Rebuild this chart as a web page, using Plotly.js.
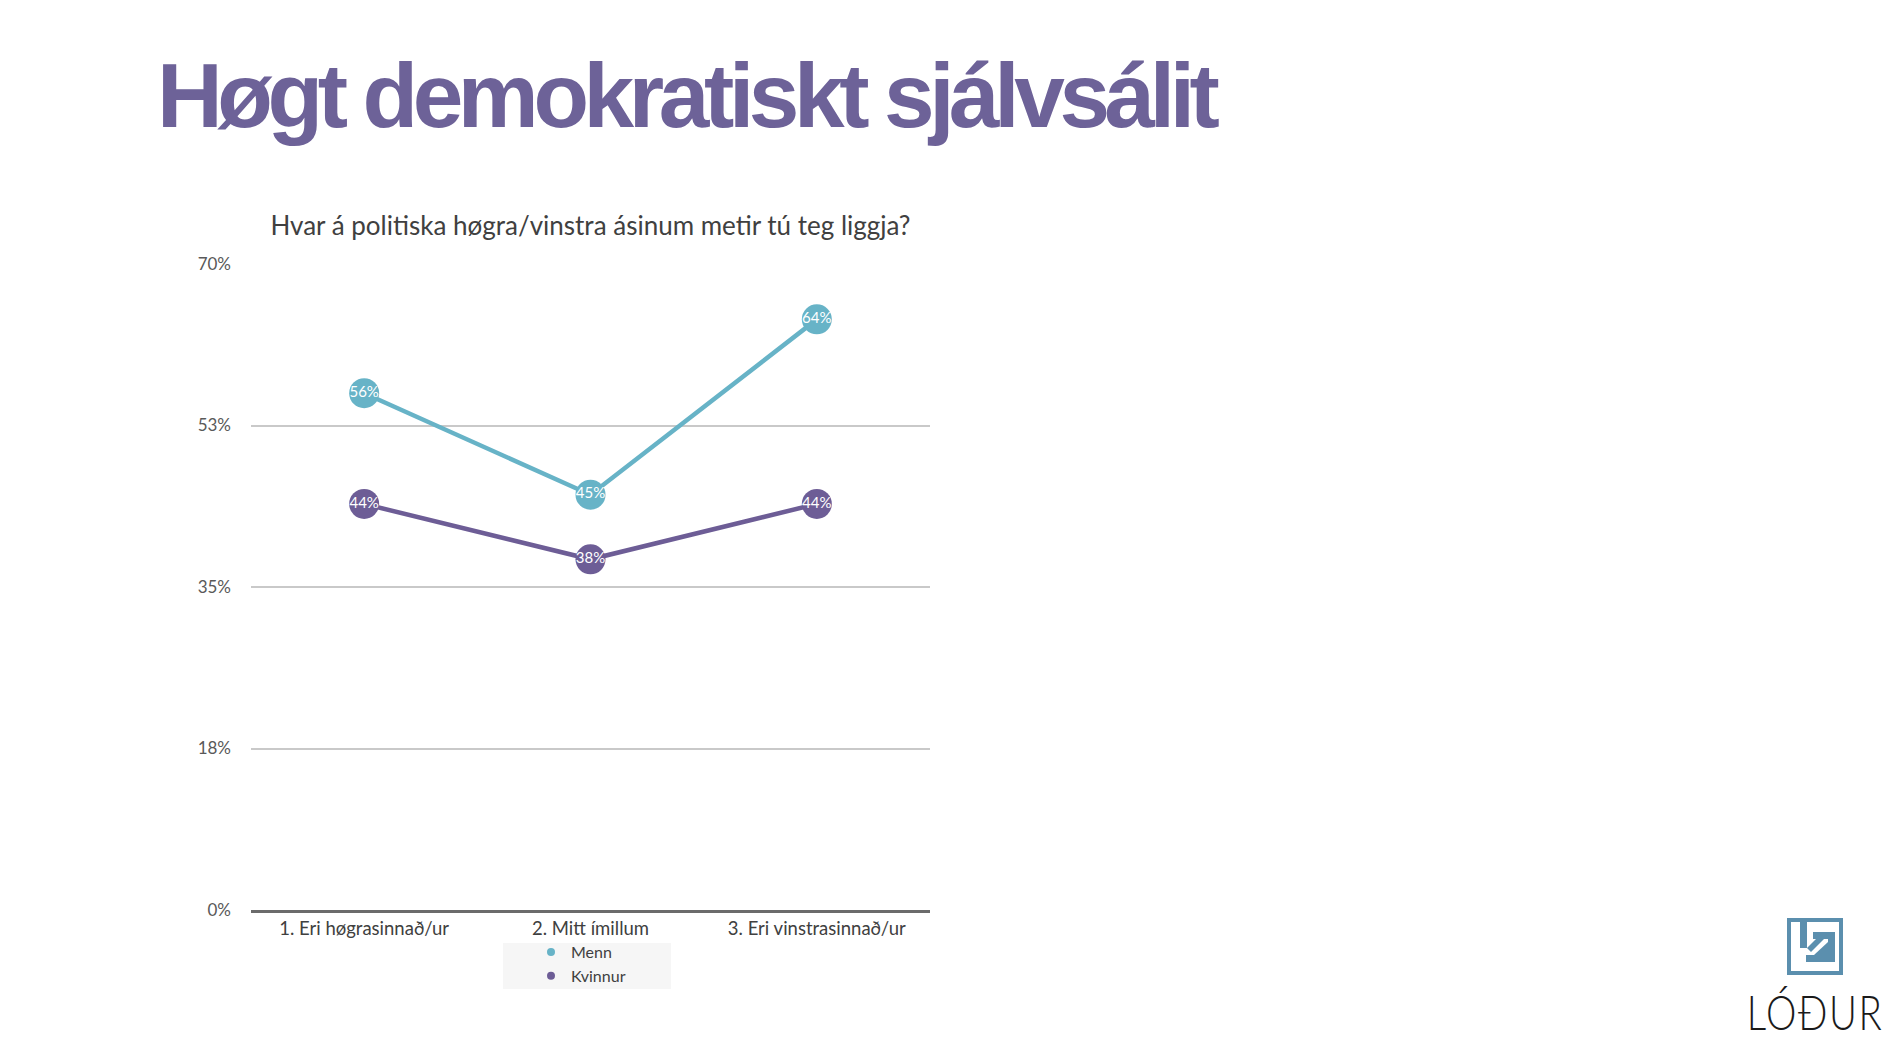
<!DOCTYPE html>
<html>
<head>
<meta charset="utf-8">
<script src="https://cdn.plot.ly/plotly-3.0.1.min.js"></script>
<style>
  html, body { margin: 0; padding: 0; background: #fff; }
  #page { position: relative; width: 1898px; height: 1062px; overflow: hidden; }
  #chart { position: absolute; left: 0; top: 0; width: 1898px; height: 1062px; }
  #headline {
    position: absolute; left: 157px; top: 50px; margin: 0;
    font-family: "Liberation Sans", Arial, sans-serif; font-weight: bold;
    font-size: 91px; line-height: 1; letter-spacing: -5.4px;
    color: #6d6298; white-space: nowrap;
  }
  #logo { position: absolute; left: 1787px; top: 918px; }
  #brand {
    position: absolute; left: 1715px; top: 988px; width: 200px; text-align: center;
    font-family: "Lato", sans-serif; font-weight: 300; font-size: 48px; line-height: 1;
    letter-spacing: 2px; color: #1a1a1a; transform: scaleX(0.8); transform-origin: center;
    white-space: nowrap;
  }
</style>
</head>
<body>
<div id="page">
  <div id="chart"></div>
  <h1 id="headline">Høgt demokratiskt sjálvsálit</h1>
  <svg id="logo" width="56" height="57" viewBox="0 0 56 57">
    <rect x="2" y="2" width="52" height="53" fill="none" stroke="#5b8fae" stroke-width="4"/>
    <rect x="13" y="4" width="7" height="26" fill="#5b8fae"/>
    <polygon points="26,14 48,14 48,44 19,44 19,37 41,37 41,21 26,21" fill="#5b8fae"/>
    <polygon points="41,24 41,37 27,37" fill="#5b8fae"/>
    <polygon points="20,30 24,34 37,21 33,17" fill="#5b8fae"/>
  </svg>
  <div id="brand">LÓÐUR</div>
</div>
<script>
// survey answers by gender, percent
let categories = ["1. Eri høgrasinnað/ur", "2. Mitt ímillum", "3. Eri vinstrasinnað/ur"];
let mennValues = [56, 45, 64];
let kvinnurValues = [44, 38, 44];

let yTickVals = [0, 17.5, 35, 52.5, 70];
let yTickText = ["0%", "18%", "35%", "53%", "70%"];

let tealColor = "#67b3c7";
let purpleColor = "#6d5d96";

function makeTrace(name, values, color) {
  return {
    x: categories,
    y: values,
    name: name,
    type: "scatter",
    mode: "lines+markers+text",
    line: { color: color, width: 4.5 },
    marker: { color: color, size: 30 },
    texttemplate: "%{y}%",
    textposition: "middle center",
    textfont: { family: "Lato, sans-serif", size: 15, color: "#ffffff" },
    hoverinfo: "x+y+name",
    showlegend: false,
  };
}

// legend-only entries: small dot like the original legend
function legendEntry(name, color) {
  return {
    x: [null],
    y: [null],
    name: name,
    type: "scatter",
    mode: "markers",
    marker: { color: color, size: 8 },
    hoverinfo: "skip",
  };
}

let layout = {
  width: 1898,
  height: 1062,
  margin: { l: 251, r: 968, t: 264, b: 152, pad: 0 },
  paper_bgcolor: "rgba(0,0,0,0)",
  plot_bgcolor: "rgba(0,0,0,0)",
  font: { family: "Lato, sans-serif", size: 18, color: "#404040" },
  title: {
    text: "Hvar á politiska høgra/vinstra ásinum metir tú teg liggja?",
    font: { family: "Lato, sans-serif", size: 26, color: "#404040" },
    x: 0.5,
    xref: "paper",
    xanchor: "center",
    y: 1 - 226 / 1062,
    yref: "container",
    yanchor: "middle",
  },
  xaxis: {
    type: "category",
    range: [-0.5, 2.5],
    showgrid: false,
    zeroline: false,
    showline: true,
    linecolor: "#6b6b6b",
    linewidth: 3,
    ticks: "",
    tickfont: { family: "Lato, sans-serif", size: 18.5, color: "#404040" },
    fixedrange: true,
  },
  yaxis: {
    range: [0, 70],
    tickvals: yTickVals,
    ticktext: yTickText,
    showgrid: true,
    gridcolor: "#c9c9c9",
    gridwidth: 1.5,
    zeroline: false,
    showline: false,
    ticks: "",
    ticklabelstandoff: 19,
    tickfont: { family: "Lato, sans-serif", size: 17, color: "#595959" },
    fixedrange: true,
  },
  // light box behind the legend, wider than plotly's own legend box
  shapes: [
    {
      type: "rect",
      xref: "paper",
      yref: "paper",
      x0: (503 - 251) / 679,
      x1: (671 - 251) / 679,
      y0: -33 / 646,
      y1: -79 / 646,
      fillcolor: "#f6f6f6",
      line: { width: 0 },
      layer: "below",
    },
  ],
  showlegend: true,
  legend: {
    orientation: "v",
    x: (531 - 251) / 679,
    xanchor: "left",
    y: -25 / 646,
    yanchor: "top",
    bgcolor: "rgba(0,0,0,0)",
    itemsizing: "trace",
    itemwidth: 30,
    tracegroupgap: 0,
    font: { family: "Lato, sans-serif", size: 16, color: "#404040" },
  },
};

Plotly.newPlot(
  "chart",
  [
    makeTrace("Menn", mennValues, tealColor),
    makeTrace("Kvinnur", kvinnurValues, purpleColor),
    legendEntry("Menn", tealColor),
    legendEntry("Kvinnur", purpleColor),
  ],
  layout,
  { staticPlot: false, displayModeBar: false }
);
</script>
</body>
</html>
